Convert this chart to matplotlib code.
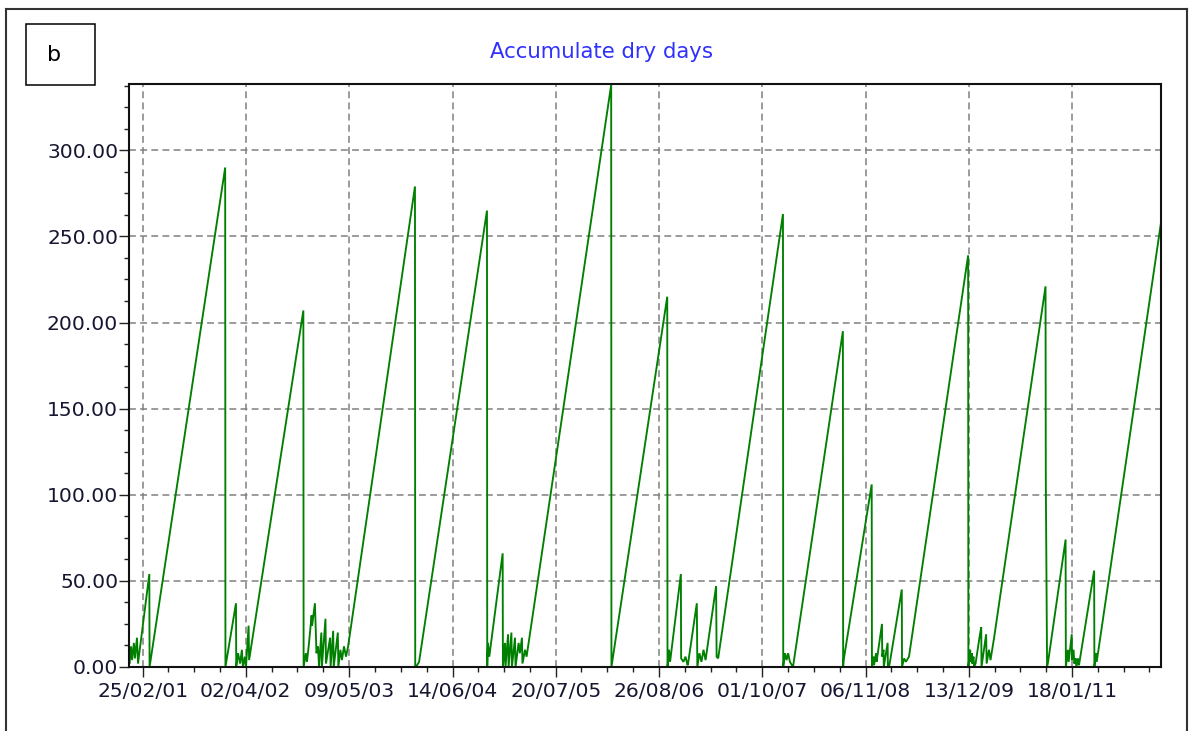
import numpy as np
import pandas as pd
import matplotlib
matplotlib.use("Agg")
import matplotlib.pyplot as plt
import matplotlib.dates as mdates
from matplotlib.ticker import MultipleLocator, FixedLocator, FormatStrFormatter
from matplotlib.lines import Line2D

# Accumulated dry days: counter of consecutive days without rain.
# Turning points of the series, as day of record (days since RECORD_START)
# and the accumulated count reached on that day.
RECORD_START = "2001-01-01"

day = [
    2, 4, 10, 14, 21, 25, 33, 37, 81, 82, 376, 377,
    418, 419, 426, 434, 441, 445, 453, 457, 467, 469, 680, 681,
    690, 694, 702, 712, 714, 725, 731, 737, 741, 750, 752, 766, 768, 784,
    786, 796, 798, 814, 816, 824, 830, 838, 846, 854, 1114, 1115,
    1118, 1130, 1394, 1395,
    1398, 1403, 1455, 1456, 1464, 1466, 1476, 1478, 1489, 1491, 1503, 1505,
    1517, 1522, 1530, 1532, 1542, 1548, 1877, 1878,
    2095, 2096, 2102, 2106, 2148, 2149, 2158, 2166, 2174, 2176, 2210, 2212,
    2220, 2228, 2236, 2244, 2285, 2287, 2293, 2545, 2546,
    2553, 2559, 2565, 2572, 2584, 2778, 2779,
    2781, 2890, 2891, 2897, 2899, 2907, 2909, 2930, 2931, 2936, 2937, 2952,
    2953, 2957, 2961, 3007, 3008, 3016, 3023, 3035, 3265, 3266,
    3267, 3273, 3275, 3279, 3281, 3286, 3288, 3294, 3311, 3316, 3317, 3331,
    3335, 3337, 3346, 3352, 3366, 3566, 3567, 3572,
    3576, 3644, 3645, 3653, 3656, 3668, 3669, 3675, 3678, 3683, 3686, 3692,
    3696, 3755, 3756, 3762, 3765, 4015,
]

dry_days = [
    3, 2, 12, 4, 14, 5, 17, 2, 54, 0, 290, 0,
    37, 0, 8, 2, 10, 0, 6, 0, 24, 4, 207, 0,
    8, 3, 14, 30, 24, 37, 8, 12, 0, 20, 0, 28, 2, 17,
    0, 21, 0, 20, 0, 10, 4, 12, 6, 12, 279, 0,
    0, 3, 265, 0,
    14, 6, 66, 0, 14, 0, 19, 0, 20, 0, 17, 0,
    14, 8, 17, 2, 10, 6, 338, 0,
    215, 0, 10, 3, 54, 5, 3, 6, 1, 2, 37, 0,
    8, 3, 10, 4, 47, 6, 5, 263, 0,
    8, 4, 8, 3, 0, 195, 0,
    4, 106, 0, 6, 1, 8, 3, 25, 6, 10, 0, 14,
    0, 0, 3, 45, 0, 5, 3, 6, 239, 0,
    2, 10, 3, 8, 2, 6, 0, 2, 19, 23, 0, 15,
    19, 2, 10, 4, 17, 221, 110, 0,
    3, 74, 0, 10, 3, 19, 4, 10, 2, 5, 0, 5,
    1, 56, 0, 8, 3, 258,
]

tick_dates = [
    "2001-02-25", "2002-04-02", "2003-05-09", "2004-06-14", "2005-07-20",
    "2006-08-26", "2007-10-01", "2008-11-06", "2009-12-13", "2011-01-18",
]
x_range = ("2001-01-03", "2011-12-30")
y_range = (0.0, 338.5)
y_ticks = [0, 50, 100, 150, 200, 250, 300]

title = "Accumulate dry days"
panel_label = "b"

W, H = 1192, 731
fig = plt.figure(figsize=(W / 100, H / 100), dpi=100)
fig.patch.set_facecolor("white")

ax = fig.add_axes([129 / W, 64 / H, 1032 / W, 583 / H])

dates = pd.Timestamp(RECORD_START) + pd.to_timedelta(day, unit="D")
ax.plot(dates, dry_days, color="#008000", lw=1.35, solid_joinstyle="miter", zorder=3)

xmin, xmax = mdates.datestr2num(list(x_range))
ax.set_xlim(xmin, xmax)
ax.set_ylim(*y_range)

# x axis: dated major ticks with three minor ticks between each pair
major = mdates.datestr2num(tick_dates)
minor = []
for a, b in zip(major[:-1], major[1:]):
    minor.extend(np.linspace(a, b, 5)[1:-1])
step = (major[-1] - major[0]) / (len(major) - 1) / 4
t = major[-1] + step
while t < xmax:
    minor.append(t)
    t += step
ax.xaxis.set_major_locator(FixedLocator(major))
ax.xaxis.set_minor_locator(FixedLocator(minor))
ax.xaxis.set_major_formatter(mdates.DateFormatter("%d/%m/%y"))

ax.yaxis.set_major_locator(FixedLocator(y_ticks))
ax.yaxis.set_minor_locator(MultipleLocator(12.5))
ax.yaxis.set_major_formatter(FormatStrFormatter("%.2f"))

label_color = "#161630"
ax.tick_params(axis="both", which="major", direction="out", length=7, width=1.0,
               color="#222222", labelsize=14.6, labelcolor=label_color)
ax.tick_params(axis="both", which="minor", direction="out", length=3.6, width=1.0,
               color="#222222")
ax.tick_params(axis="x", which="major", pad=3.5)
ax.tick_params(axis="y", which="major", pad=0.8)

ax.grid(True, which="major", color="#808080", lw=1.1, linestyle=(0, (4.5, 2.8)))
ax.set_axisbelow(True)
for s in ax.spines.values():
    s.set_linewidth(1.5)
    s.set_color("#111111")
    s.set_zorder(4)

fig.text(601 / W, 1 - 52 / H, title, ha="center", va="center",
         color="#3030ff", fontsize=15.3)

# panel letter in its box
fig.add_artist(plt.Rectangle((26 / W, 1 - 85 / H), 69 / W, 61 / H,
                             transform=fig.transFigure, fill=False,
                             edgecolor="black", lw=1.1))
fig.text(54 / W, 1 - 55 / H, panel_label, ha="center", va="center",
         color="black", fontsize=16)

# outer frame
frame_kw = dict(transform=fig.transFigure, color="#333333", lw=1.5)
fig.add_artist(Line2D([6 / W, 6 / W], [0, 1 - 9 / H], **frame_kw))
fig.add_artist(Line2D([6 / W, 1187 / W], [1 - 9 / H, 1 - 9 / H], **frame_kw))
fig.add_artist(Line2D([1187 / W, 1187 / W], [0, 1 - 9 / H], **frame_kw))

fig.savefig("out.png", dpi=100, facecolor="white")
